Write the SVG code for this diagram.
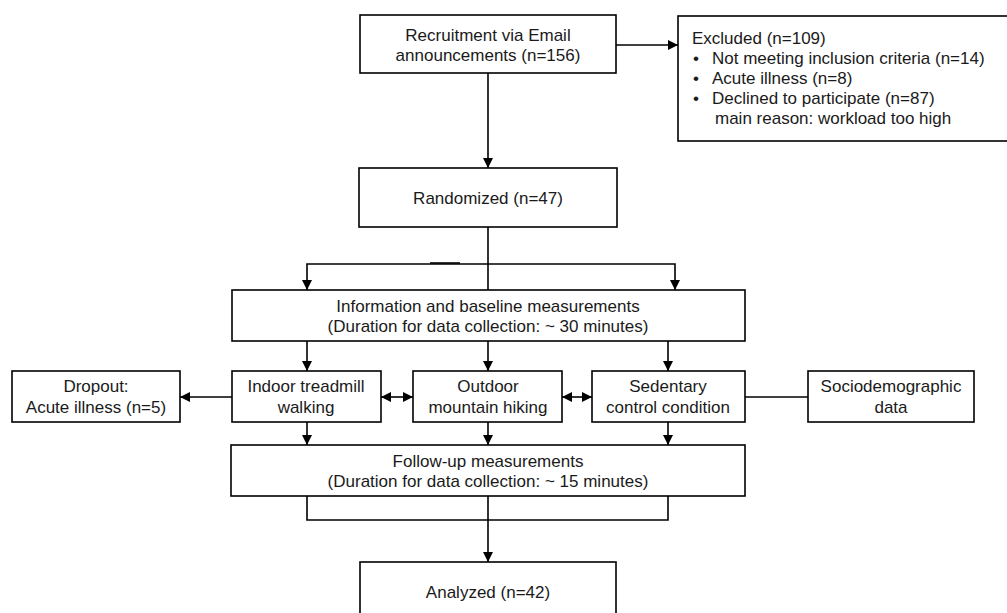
<svg xmlns="http://www.w3.org/2000/svg" width="1007" height="613" viewBox="0 0 1007 613">
<defs>
<marker id="ah" viewBox="0 0 10 10" refX="10" refY="5" markerWidth="10" markerHeight="10" markerUnits="userSpaceOnUse" orient="auto-start-reverse">
<path d="M0,0 L10,5 L0,10 z" fill="#000"/>
</marker>
</defs>
<style>
.box{fill:#fff;stroke:#000;stroke-width:1.6}
.t{font-family:"Liberation Sans",Arial,sans-serif;font-size:17px;fill:#1a1a1a}
.c{text-anchor:middle}
.ln{fill:none;stroke:#000;stroke-width:1.6}
</style>
<rect width="1007" height="613" fill="#fff"/>
<g id="connectors">
<line class="ln" x1="616" y1="45" x2="678" y2="45" marker-end="url(#ah)"/>
<line class="ln" x1="488" y1="73" x2="488" y2="168" marker-end="url(#ah)"/>
<line class="ln" x1="488" y1="227" x2="488" y2="290"/>
<polyline class="ln" points="307,290 307,264 675,264 675,290" marker-start="url(#ah)" marker-end="url(#ah)"/>
<line class="ln" x1="430" y1="263" x2="460" y2="263"/>
<line class="ln" x1="307" y1="341" x2="307" y2="371" marker-end="url(#ah)"/>
<line class="ln" x1="488" y1="341" x2="488" y2="371" marker-end="url(#ah)"/>
<line class="ln" x1="668" y1="341" x2="668" y2="371" marker-end="url(#ah)"/>
<line class="ln" x1="232" y1="397" x2="180" y2="397" marker-end="url(#ah)"/>
<line class="ln" x1="381" y1="397" x2="413" y2="397" marker-start="url(#ah)" marker-end="url(#ah)"/>
<line class="ln" x1="562" y1="397" x2="592" y2="397" marker-start="url(#ah)" marker-end="url(#ah)"/>
<line class="ln" x1="745" y1="397" x2="808" y2="397"/>
<line class="ln" x1="307" y1="422" x2="307" y2="445" marker-end="url(#ah)"/>
<line class="ln" x1="488" y1="422" x2="488" y2="445" marker-end="url(#ah)"/>
<line class="ln" x1="668" y1="422" x2="668" y2="445" marker-end="url(#ah)"/>
<polyline class="ln" points="307,496 307,520 668,520 668,496"/>
<line class="ln" x1="488" y1="496" x2="488" y2="562" marker-end="url(#ah)"/>
</g>
<g id="recruitment">
<rect class="box" x="360" y="15" width="256" height="58"/>
<text class="t c" x="488" y="41">Recruitment via Email</text>
<text class="t c" x="488" y="61">announcements (n=156)</text>
</g>
<g id="excluded">
<rect class="box" x="678" y="16" width="335" height="125"/>
<text class="t" x="692" y="44">Excluded (n=109)</text>
<text class="t" x="693" y="64">•</text>
<text class="t" x="712" y="64">Not meeting inclusion criteria (n=14)</text>
<text class="t" x="693" y="84">•</text>
<text class="t" x="712" y="84">Acute illness (n=8)</text>
<text class="t" x="693" y="104">•</text>
<text class="t" x="712" y="104">Declined to participate (n=87)</text>
<text class="t" x="715" y="124">main reason: workload too high</text>
</g>
<g id="randomized">
<rect class="box" x="359" y="168" width="258" height="59"/>
<text class="t c" x="488" y="204">Randomized (n=47)</text>
</g>
<g id="baseline">
<rect class="box" x="232" y="290" width="513" height="51"/>
<text class="t c" x="488" y="312">Information and baseline measurements</text>
<text class="t c" x="488" y="332">(Duration for data collection: ~ 30 minutes)</text>
</g>
<g id="dropout">
<rect class="box" x="12" y="371" width="168" height="51"/>
<text class="t c" x="96" y="392">Dropout:</text>
<text class="t c" x="96" y="413">Acute illness (n=5)</text>
</g>
<g id="indoor">
<rect class="box" x="232" y="371" width="149" height="51"/>
<text class="t c" x="306" y="392">Indoor treadmill</text>
<text class="t c" x="306" y="413">walking</text>
</g>
<g id="outdoor">
<rect class="box" x="413" y="371" width="149" height="51"/>
<text class="t c" x="488" y="392">Outdoor</text>
<text class="t c" x="488" y="413">mountain hiking</text>
</g>
<g id="sedentary">
<rect class="box" x="592" y="371" width="153" height="51"/>
<text class="t c" x="668" y="392">Sedentary</text>
<text class="t c" x="668" y="413">control condition</text>
</g>
<g id="sociodemographic">
<rect class="box" x="808" y="371" width="166" height="51"/>
<text class="t c" x="891" y="392">Sociodemographic</text>
<text class="t c" x="891" y="413">data</text>
</g>
<g id="followup">
<rect class="box" x="231" y="445" width="514" height="51"/>
<text class="t c" x="488" y="467">Follow-up measurements</text>
<text class="t c" x="488" y="487">(Duration for data collection: ~ 15 minutes)</text>
</g>
<g id="analyzed">
<rect class="box" x="360" y="562" width="256" height="60"/>
<text class="t c" x="488" y="598">Analyzed (n=42)</text>
</g>
</svg>
